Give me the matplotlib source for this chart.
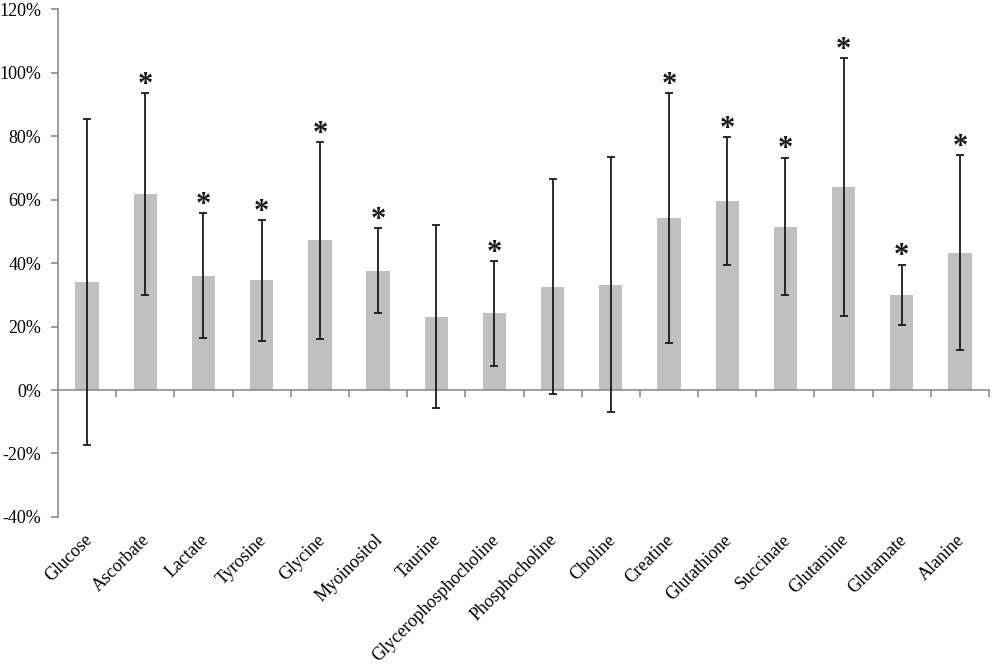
import matplotlib
matplotlib.use('Agg')
import matplotlib.pyplot as plt
import matplotlib.transforms as mtransforms
import numpy as np
from matplotlib.ticker import FuncFormatter, MultipleLocator

# metabolites and relative change (%)
metabolites = ['Glucose', 'Ascorbate', 'Lactate', 'Tyrosine', 'Glycine', 'Myoinositol',
               'Taurine', 'Glycerophosphocholine', 'Phosphocholine', 'Choline', 'Creatine',
               'Glutathione', 'Succinate', 'Glutamine', 'Glutamate', 'Alanine']
means = [34.0, 61.7, 36.0, 34.5, 47.1, 37.6, 23.1, 24.1, 32.6, 33.2, 54.2, 59.6, 51.5, 63.9, 30.0, 43.3]
errors = [51.3, 31.7, 19.6, 19.0, 31.0, 13.5, 28.9, 16.5, 33.8, 40.1, 39.3, 20.1, 21.7, 40.6, 9.5, 30.8]
significant = [False, True, True, True, True, True, False, True, False, False, True, True, True, True, True, True]

plt.rcParams['font.family'] = 'serif'
plt.rcParams['font.serif'] = ['Liberation Serif', 'DejaVu Serif']

fig = plt.figure(figsize=(9.92, 6.64), dpi=100)
ax = fig.add_axes([0.0585, 0.2214, 0.9385, 0.765])

x = np.arange(len(metabolites))
ax.bar(x, means, width=0.4, color='#c0c0c0', zorder=2)
ax.errorbar(x, means, yerr=errors, fmt='none', ecolor='#1a1a1a', elinewidth=1.3,
            capsize=2.6, capthick=1.3, zorder=3)

# звездочки над значимыми
for xi, m, e, s in zip(x, means, errors, significant):
    if s:
        ax.text(xi, m + e + 2.4, '*', ha='center', va='center', fontsize=22,
                fontweight='bold', color='#1a1a1a', family='Liberation Serif')

ax.set_xlim(-0.5, len(metabolites) - 0.5)
ax.set_ylim(-40, 120)
ax.yaxis.set_major_locator(MultipleLocator(20))
ax.yaxis.set_major_formatter(FuncFormatter(lambda v, p: f'{v:.0f}%'))

axis_color = '#8c8c8c'
for side in ['top', 'right']:
    ax.spines[side].set_visible(False)
ax.spines['left'].set_color(axis_color)
ax.spines['bottom'].set_color(axis_color)
ax.spines['bottom'].set_position(('data', 0))
ax.spines['left'].set_linewidth(1.2)
ax.spines['bottom'].set_linewidth(1.2)

ax.set_xticks(np.arange(len(metabolites)) + 0.5)
ax.set_xticklabels([])
ax.tick_params(axis='x', direction='out', length=5, color=axis_color, width=1.2)
ax.tick_params(axis='y', direction='out', length=5, color=axis_color, width=1.2,
               labelsize=13, pad=7)
for lbl in ax.get_yticklabels():
    lbl.set_family('Liberation Serif')

# подписи под осью
trans = mtransforms.blended_transform_factory(ax.transData, ax.transAxes)
for xi, name in zip(x, metabolites):
    ax.text(xi + 0.04, -0.04, name, transform=trans, rotation=45, ha='right', va='center',
            rotation_mode='anchor', fontsize=13, family='Liberation Serif')

plt.savefig('out.png', dpi=100)
plt.close()
